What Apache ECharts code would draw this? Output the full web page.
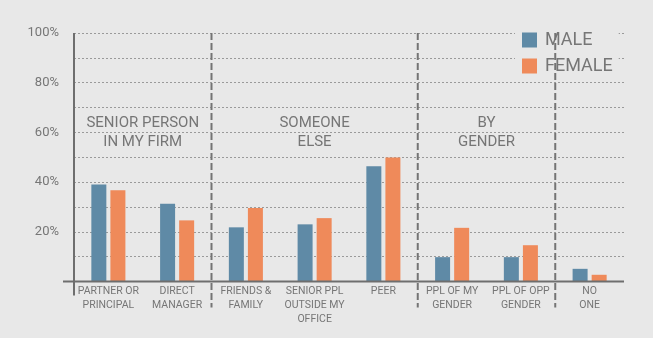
<!DOCTYPE html>
<html>
<head>
<meta charset="utf-8">
<script src="https://cdn.jsdelivr.net/npm/echarts@6/dist/echarts.min.js"></script>
<style>
  html, body { margin: 0; padding: 0; background: #e8e8e8; }
  #chart { width: 653px; height: 338px; }
</style>
</head>
<body>
<div id="chart"></div>
<script>
// Who people turn to, by gender (percent of respondents)
const categories = [
  'PARTNER OR\nPRINCIPAL', 'DIRECT\nMANAGER', 'FRIENDS &\nFAMILY', 'SENIOR PPL\nOUTSIDE MY\nOFFICE',
  'PEER', 'PPL OF MY\nGENDER', 'PPL OF OPP\nGENDER', 'NO\nONE'
];
const maleValues   = [39, 31.3, 21.8, 23, 46.4, 9.8, 9.8, 5.1];
const femaleValues = [36.7, 24.6, 29.6, 25.5, 49.9, 21.6, 14.6, 2.7];
const seriesNames = ['MALE', 'FEMALE'];

// Section headings and the category indices where each section ends
const groupLabels = ['SENIOR PERSON\nIN MY FIRM', 'SOMEONE\nELSE', 'BY\nGENDER'];
const groupBreaks = [2, 5, 7];

const BG = '#e8e8e8';
const AXIS = '#6e6e6e';
const TEXT = '#767676';
const FONT = 'Roboto, "DejaVu Sans", sans-serif';

const chart = echarts.init(document.getElementById('chart'), null, { renderer: 'canvas' });

const option = {
  backgroundColor: BG,
  animation: false,
  textStyle: { fontFamily: FONT },
  grid: { left: 74, right: 29, top: 33, bottom: 56.5 },
  legend: {
    orient: 'vertical',
    left: 515, top: 26,
    padding: [5, 6, 5, 7],
    backgroundColor: BG,
    icon: 'rect',
    itemWidth: 15, itemHeight: 15, itemGap: 8,
    formatter: '{t|{name}}',
    textStyle: {
      fontSize: 18, color: TEXT, fontFamily: FONT,
      rich: { t: { fontSize: 18, color: TEXT, fontFamily: FONT, padding: [0, 0, 0, 3] } }
    },
    data: seriesNames
  },
  xAxis: {
    type: 'category',
    data: categories,
    axisLine: { show: false },
    axisTick: { show: false },
    axisLabel: { color: TEXT, fontSize: 10.5, lineHeight: 14, margin: 3, interval: 0, fontFamily: FONT }
  },
  yAxis: {
    type: 'value',
    min: 0, max: 100, interval: 10,
    axisLine: { show: false },
    axisTick: { show: false },
    axisLabel: {
      color: TEXT, fontSize: 13, margin: 15, fontFamily: FONT,
      formatter: v => (v > 0 && v % 20 === 0) ? v + '%' : ''
    },
    splitLine: { lineStyle: { color: '#9a9a9a', type: [2, 2], width: 1 } }
  },
  series: [
    {
      name: seriesNames[0], type: 'bar', data: maleValues,
      barWidth: 15, barGap: '27%',
      itemStyle: { color: '#5f8aa6' }
    },
    {
      name: seriesNames[1], type: 'bar', data: femaleValues,
      barWidth: 15, barGap: '27%',
      itemStyle: { color: '#ef8a5a' }
    }
  ]
};

chart.setOption(option);

// Decorations placed from the chart's own scales
function px(idx, val) { return chart.convertToPixel({ gridIndex: 0 }, [idx, val]); }
const p0 = px(0, 0), p1 = px(1, 0);
const band = p1[0] - p0[0];
const leftEdge = p0[0] - band / 2;
const rightEdge = px(categories.length - 1, 0)[0] + band / 2;
const yZero = p0[1];
const yTop = px(0, 100)[1];

const graphics = [];
// baseline, extending slightly past the value axis
graphics.push({ type: 'line', shape: { x1: leftEdge - 11, y1: yZero, x2: rightEdge, y2: yZero },
  style: { stroke: AXIS, lineWidth: 2 }, z: 10 });
// value axis line, extending below the baseline
graphics.push({ type: 'line', shape: { x1: leftEdge, y1: yTop, x2: leftEdge, y2: yZero + 14 },
  style: { stroke: AXIS, lineWidth: 2 }, z: 10 });
// dashed section separators
groupBreaks.forEach(b => {
  const x = leftEdge + band * b;
  graphics.push({ type: 'line', shape: { x1: x, y1: yTop, x2: x, y2: yZero + 26 },
    style: { stroke: '#747474', lineWidth: 2, lineDash: [7, 3] }, z: 10 });
});
// section headings, centred at the 60% level
const starts = [0].concat(groupBreaks);
const yHead = px(0, 60)[1];
groupLabels.forEach((t, i) => {
  const cx = leftEdge + band * (starts[i] + starts[i + 1]) / 2;
  graphics.push({ type: 'text', x: cx, y: yHead, z: 10,
    style: { text: t, fill: TEXT, font: '15px ' + FONT, align: 'center', verticalAlign: 'middle', lineHeight: 19 } });
});
chart.setOption({ graphic: graphics });
</script>
</body>
</html>
